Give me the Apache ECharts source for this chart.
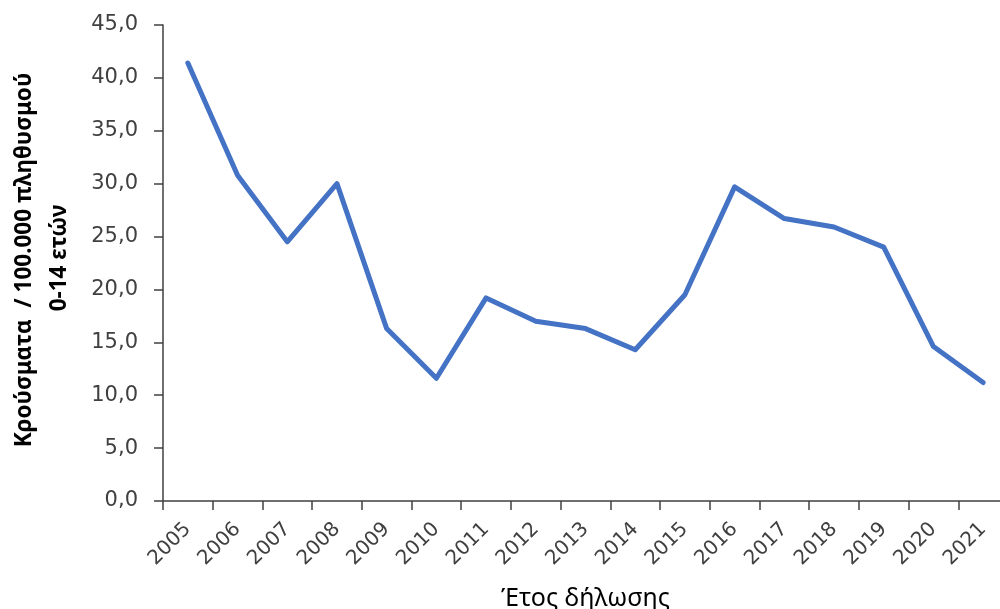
<!DOCTYPE html>
<html>
<head>
<meta charset="utf-8">
<script src="https://cdn.jsdelivr.net/npm/echarts@6/dist/echarts.min.js"></script>
<style>
  html, body { margin: 0; padding: 0; background: #ffffff; }
  #chart { width: 1000px; height: 609px; }
</style>
</head>
<body>
<div id="chart"></div>
<script>
// Reporting years
const years = ['2005', '2006', '2007', '2008', '2009', '2010', '2011', '2012', '2013',
  '2014', '2015', '2016', '2017', '2018', '2019', '2020', '2021'];

// Cases per 100,000 population aged 0-14
const rates = [41.4, 30.8, 24.5, 30.0, 16.3, 11.6, 19.2, 17.0, 16.3,
  14.3, 19.5, 29.7, 26.7, 25.9, 24.0, 14.6, 11.2];

// Value axis range and step
const yMin = 0;
const yMax = 45;
const yStep = 5;

const yTitleLine1 = 'Κρούσματα  / 100.000 πληθυσμού';
const yTitleLine2 = '0-14 ετών';
const xTitle = 'Έτος δήλωσης';

const axisColor = '#404040';
const labelColor = '#404040';

const chart = echarts.init(document.getElementById('chart'), null, { renderer: 'canvas' });

chart.setOption({
  backgroundColor: '#ffffff',
  animation: false,
  grid: {
    left: 163,
    top: 25,
    width: 845,
    height: 476,
    outerBoundsMode: 'none'
  },
  xAxis: {
    type: 'category',
    data: years,
    boundaryGap: true,
    axisLine: { lineStyle: { color: axisColor, width: 1.5 } },
    axisTick: { show: true, length: 9, lineStyle: { color: axisColor, width: 1.5 } },
    axisLabel: {
      rotate: 45,
      margin: 25,
      interval: 0,
      color: labelColor,
      fontFamily: 'DejaVu Sans',
      fontSize: 20
    },
    name: xTitle,
    nameLocation: 'middle',
    nameGap: 85,
    nameTextStyle: {
      color: '#000000',
      fontFamily: 'Noto Sans',
      fontSize: 25
    },
    splitLine: { show: false }
  },
  yAxis: {
    type: 'value',
    min: yMin,
    max: yMax,
    interval: yStep,
    axisLine: { show: true, lineStyle: { color: axisColor, width: 1.5 } },
    axisTick: { show: true, length: 9, lineStyle: { color: axisColor, width: 1.5 } },
    axisLabel: {
      margin: 25,
      color: labelColor,
      fontFamily: 'DejaVu Sans',
      fontSize: 21,
      formatter: v => v.toFixed(1).replace('.', ',')
    },
    splitLine: { show: false }
  },
  graphic: [
    {
      type: 'text',
      x: 25,
      y: 260,
      rotation: Math.PI / 2,
      style: {
        text: yTitleLine1,
        fill: '#000000',
        font: 'bold 22.5px "Noto Sans", sans-serif',
        align: 'center',
        verticalAlign: 'middle'
      }
    },
    {
      type: 'text',
      x: 60,
      y: 258,
      rotation: Math.PI / 2,
      style: {
        text: yTitleLine2,
        fill: '#000000',
        font: 'bold 22.5px "Noto Sans", sans-serif',
        align: 'center',
        verticalAlign: 'middle'
      }
    }
  ],
  series: [
    {
      type: 'line',
      data: rates,
      symbol: 'none',
      smooth: false,
      lineStyle: { color: '#4472C4', width: 5, cap: 'round', join: 'round' },
      itemStyle: { color: '#4472C4' }
    }
  ]
});
</script>
</body>
</html>
